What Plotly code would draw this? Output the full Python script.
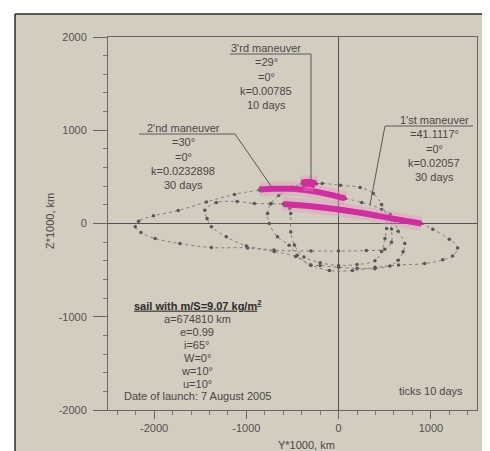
import plotly.graph_objects as go

# ---------------- data (Y*1000 km, Z*1000 km) ----------------
coast_outer_y = [896, 1021, 1200, 1290, 1236, 1129, 932, 650, 394, 150, -100, -300, -466, -699, -986, -1380, -1720, -1989, -2143, -2204, -2168, -2007, -1738, -1434, -1129, -860]
coast_outer_z = [0, -61, -169, -262, -348, -390, -430, -445, -470, -505, -505, -445, -355, -300, -262, -258, -215, -161, -97, -36, 25, 82, 140, 230, 312, 360]

coast_loop2_y = [560, 573, 573, 500, 300, 0, -300, -700, -1000, -1218, -1379, -1426, -1451, -1326, -1100, -914, -734, -600]
coast_loop2_z = [100, -60, -200, -275, -290, -295, -295, -285, -240, -143, -36, 54, 143, 225, 235, 215, 212, 210]

coast_loop3_y = [72, 250, 466, 580, 645, 717, 699, 645, 556, 394, 200, 0, -200, -304, -448, -537, -663, -752, -770, -734, -650, -500, -400]
coast_loop3_z = [269, 225, 150, 50, -82, -215, -304, -394, -455, -484, -480, -470, -450, -448, -341, -233, -143, 0, 107, 215, 300, 390, 425]

coast_loop4_y = [-240, -179, 18, 233, 376, 466, 520, 520, 502, 466, 394, 200, 0, -200, -376, -480, -519, -519, -530]
coast_loop4_z = [425, 430, 410, 387, 322, 204, 60, -54, -161, -300, -400, -440, -450, -420, -358, -230, -90, 107, 160]

maneuver1_y = [-600, -300, 0, 300, 600, 896]
maneuver1_z = [210, 185, 150, 105, 50, 0]
maneuver2_y = [-860, -700, -500, -300, -143, 72]
maneuver2_z = [365, 372, 372, 350, 320, 269]
maneuver3_y = [-400, -330, -250]
maneuver3_z = [425, 438, 420]

x_ticks = [-2000, -1000, 0, 1000]
x_tick_text = ["-2000", "-1000", "0", "1000"]
y_ticks = [-2000, -1000, 0, 1000, 2000]
y_tick_text = ["-2000", "-1000", "0", "1000", "2000"]

label_3rd = ["3'rd maneuver", "=29°", "=0°", "k=0.00785", "10 days"]
label_2nd = ["2'nd maneuver", "=30°", "=0°", "k=0.0232898", "30 days"]
label_1st = ["1'st maneuver", "=41.1117°", "=0°", "k=0.02057", "30 days"]
sail_lines = ["a=674810 km", "e=0.99", "i=65°", "W=0°", "w=10°", "u=10°", "Date of launch: 7 August 2005"]

# ---------------- styles ----------------
BG = "#d3cdbf"
TXT = "#4a4646"
PINK = "#cf2f9c"
HALO = "rgba(230,140,200,0.35)"
COAST_LINE = "#877b80"
COAST_MARK = "#5c5457"
FONT = "Liberation Sans, Arial, sans-serif"

fig = go.Figure()

for ys, zs in [(coast_outer_y, coast_outer_z), (coast_loop2_y, coast_loop2_z),
               (coast_loop3_y, coast_loop3_z), (coast_loop4_y, coast_loop4_z)]:
    fig.add_trace(go.Scatter(x=ys, y=zs, mode="lines+markers",
                             line=dict(color=COAST_LINE, width=1, dash="dot", shape="spline", smoothing=1.0),
                             marker=dict(color=COAST_MARK, size=3.5),
                             hoverinfo="skip", showlegend=False))

for ys, zs, w in [(maneuver1_y, maneuver1_z, 6), (maneuver2_y, maneuver2_z, 6), (maneuver3_y, maneuver3_z, 8)]:
    fig.add_trace(go.Scatter(x=ys, y=zs, mode="lines",
                             line=dict(color=HALO, width=w + 8, shape="spline"),
                             hoverinfo="skip", showlegend=False))
    fig.add_trace(go.Scatter(x=ys, y=zs, mode="lines",
                             line=dict(color=PINK, width=w, shape="spline"),
                             hoverinfo="skip", showlegend=False))

# ---------------- pixel helpers for annotations ----------------
L, R, T, B = 100, 469, 29, 402
XR = [-2500, 1500]
YR = [-2000, 2000]


def dx(px):
    return XR[0] + (px - L) * (XR[1] - XR[0]) / (R - L)


def dy(py):
    return YR[1] - (py - T) * (YR[1] - YR[0]) / (B - T)


annotations = []
shapes = []

# page background and border
shapes.append(dict(type="rect", xref="paper", yref="paper",
                   x0=(7 - L) / (R - L), x1=(490 - L) / (R - L),
                   y0=(B - 451) / (B - T), y1=(B - 6) / (B - T),
                   fillcolor=BG, line=dict(width=0), layer="below"))
shapes.append(dict(type="line", xref="paper", yref="paper",
                   x0=(7 - L) / (R - L), x1=(490 - L) / (R - L),
                   y0=(B - 6) / (B - T), y1=(B - 6) / (B - T),
                   line=dict(color="#2a2a2a", width=1.5)))
shapes.append(dict(type="line", xref="paper", yref="paper",
                   x0=(7 - L) / (R - L), x1=(7 - L) / (R - L),
                   y0=(B - 451) / (B - T), y1=(B - 6) / (B - T),
                   line=dict(color="#2a2a2a", width=1.5)))


def text_block(lines, cx, py0, step, size=11):
    for i, t in enumerate(lines):
        annotations.append(dict(x=dx(cx), y=dy(py0 + i * step), xref="x", yref="y",
                                text=t, showarrow=False, xanchor="center", yanchor="middle",
                                font=dict(family=FONT, size=size, color=TXT)))


def line_px(pts):
    for (x0, y0), (x1, y1) in zip(pts[:-1], pts[1:]):
        shapes.append(dict(type="line", xref="x", yref="y",
                           x0=dx(x0), y0=dy(y0), x1=dx(x1), y1=dy(y1),
                           line=dict(color="#5a5656", width=1)))


# 3'rd maneuver
text_block(label_3rd, 258, 40, 14.3)
line_px([(222, 46), (303, 46), (303, 172)])
# 2'nd maneuver
text_block(label_2nd, 175, 120, 14.3)
line_px([(131, 126), (227, 126), (263, 178)])
# 1'st maneuver
text_block(label_1st, 426, 112, 14.3)
line_px([(465, 118), (377, 118), (362, 197)])

# sail block
annotations.append(dict(x=dx(189), y=dy(297), xref="x", yref="y",
                        text="<b><u>sail with m/S=9.07 kg/m<sup>2</sup></u></b>", showarrow=False,
                        xanchor="center", yanchor="middle",
                        font=dict(family=FONT, size=11, color="#2e2a2a")))
text_block(sail_lines, 189, 311, 12.9)

annotations.append(dict(x=dx(423), y=dy(383), xref="x", yref="y", text="ticks 10 days",
                        showarrow=False, xanchor="center", yanchor="middle",
                        font=dict(family=FONT, size=11, color=TXT)))

# axis titles
annotations.append(dict(x=(298 - L) / (R - L), y=(B - 437) / (B - T), xref="paper", yref="paper",
                        text="Y*1000, km", showarrow=False, xanchor="center", yanchor="middle",
                        font=dict(family=FONT, size=11, color=TXT)))
annotations.append(dict(x=(42 - L) / (R - L), y=(B - 213) / (B - T), xref="paper", yref="paper",
                        text="Z*1000, km", showarrow=False, xanchor="center", yanchor="middle",
                        textangle=-90, font=dict(family=FONT, size=11, color=TXT)))

axis_common = dict(showgrid=False, zeroline=True, zerolinecolor="#555050", zerolinewidth=1,
                   showline=True, mirror=True, linecolor="#6a6666", linewidth=1,
                   ticks="outside", tickcolor="#6a6666",
                   tickfont=dict(family=FONT, size=11, color="#555050"))

fig.update_layout(
    width=490, height=451,
    margin=dict(l=L, r=490 - R, t=T, b=451 - B),
    paper_bgcolor="white", plot_bgcolor=BG,
    xaxis=dict(range=XR, tickvals=x_ticks, ticktext=x_tick_text, ticklen=8,
               minor=dict(dtick=200, ticks="outside", ticklen=4, tickcolor="#7a7676"),
               **axis_common),
    yaxis=dict(range=YR, tickvals=y_ticks, ticktext=y_tick_text, ticklen=14, ticklabelstandoff=4,
               minor=dict(dtick=200, ticks="outside", ticklen=4, tickcolor="#7a7676"),
               **axis_common),
    shapes=shapes, annotations=annotations,
)

fig.write_html("out.html")
